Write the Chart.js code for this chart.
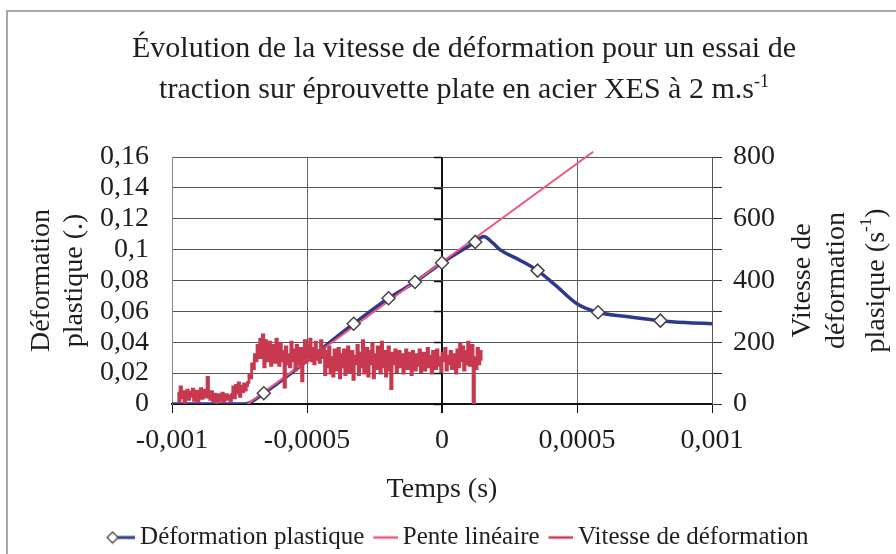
<!DOCTYPE html>
<html><head><meta charset="utf-8">
<script src="https://cdn.jsdelivr.net/npm/chart.js@4.4.1/dist/chart.umd.min.js"></script>
<style>
html,body{margin:0;padding:0;background:#fff;}
#wrap{position:relative;width:896px;height:554px;overflow:hidden;background:#fff;}
#frame{position:absolute;left:6px;top:10px;width:1000px;height:1000px;border-left:2px solid #a8a8a8;border-top:2px solid #a8a8a8;}
canvas{position:absolute;left:0;top:0;}
</style></head><body>
<div id="wrap"><div id="frame"></div><canvas id="c" width="896" height="554"></canvas></div>
<script>
// ---- texts ----
const titleLine1 = 'Évolution de la vitesse de déformation pour un essai de';
const titleLine2 = 'traction sur éprouvette plate en acier XES à 2 m.s';
const titleSup = '-1';
const xTitle = 'Temps (s)';
const yLeftTitle = ['Déformation', 'plastique (.)'];
const yRightTitle = ['Vitesse de', 'déformation', 'plasique (s'];
const legendNames = ['Déformation plastique', 'Pente linéaire', 'Vitesse de déformation'];

// ---- Déformation plastique (left axis) ----
const strainT = [-0.001, -0.00073, -0.00066, -0.000327, -0.000198, -0.0001, 0, 0.000123, 0.000154, 0.00019, 0.000216, 0.00029, 0.000354, 0.00042, 0.0005, 0.000578, 0.00069, 0.000809, 0.0009, 0.001];
const strainV = [0, 0, 0.007, 0.052, 0.0685, 0.079, 0.0915, 0.105, 0.1085, 0.104, 0.0998, 0.093, 0.0864, 0.077, 0.065, 0.0594, 0.0565, 0.054, 0.0528, 0.052];
const markerT = [-0.00066, -0.000327, -0.000198, -0.0001, 0, 0.000123, 0.000354, 0.000578, 0.000809];
const markerV = [0.007, 0.052, 0.0685, 0.079, 0.0915, 0.105, 0.0864, 0.0594, 0.054];

// ---- Pente linéaire (left axis) ----
const slopeT = [-0.00072, 0.00056];
const slopeV = [0, 0.1634];

// ---- Vitesse de déformation (right axis), sampled every NOISE_DT from NOISE_T0 ----
const NOISE_T0 = -0.00098;
const NOISE_DT = 0.000005;
const rateV = [
  35,10,55,20,40,5,30,45,15,38,
  25,48,12,33,42,8,28,50,18,36,
  45,22,86,30,15,40,10,32,25,5,
  30,12,28,35,8,22,30,15,26,10,
  30,55,20,60,35,68,25,58,40,65,
  45,60,
  70,95,85,130,115,160,140,190,150,210,
  150,224,120,205,180,140,200,125,190,150,
  135,210,160,125,195,140,170,55,185,130,
  160,120,200,140,175,110,190,150,130,180,
  75,165,205,135,190,150,210,140,180,130,
  200,145,170,135,205,150,180,95,170,120,
  185,100,150,90,175,130,110,180,85,160,
  120,175,95,150,185,105,140,170,80,155,
  130,190,95,165,120,205,100,150,180,90,
  170,130,195,85,160,115,185,140,100,200,
  120,170,90,155,185,110,50,165,130,175,
  105,150,170,120,160,100,145,175,115,165,
  130,95,170,140,110,160,125,175,105,150,
  165,110,140,180,120,155,100,170,135,115,
  175,125,150,105,165,140,180,110,155,130,
  170,115,160,135,100,175,120,195,140,185,
  110,170,130,200,125,160,190,3,150,115,
  180,130,170,140
];

// ---- axes ----
const xMin = -0.001, xMax = 0.001, xStep = 0.0005;
const yMin = 0, yMax = 0.16, yStep = 0.02;
const y2Min = 0, y2Max = 800, y2Step = 100, y2LabelEvery = 200;

const FONT = '"Liberation Serif", "Times New Roman", serif';
const TXT = '#1e1e1e';
const BLUE = '#2d3a8c', PINK = '#f2557a', RED = '#c8384f';

function fmt(v){
  const r = Math.round(v * 1e6) / 1e6;
  if (r === 0) return '0';
  return String(r).replace('.', ',');
}

function makeIcon(kind){
  const c = document.createElement('canvas');
  c.width = 37; c.height = 14;
  const g = c.getContext('2d');
  if (kind === 0){
    g.strokeStyle = BLUE; g.lineWidth = 3;
    g.beginPath(); g.moveTo(18, 7); g.lineTo(37, 7); g.stroke();
    g.fillStyle = '#fff'; g.strokeStyle = '#444'; g.lineWidth = 1.3;
    g.beginPath(); g.moveTo(14.5, 1.5); g.lineTo(20, 7); g.lineTo(14.5, 12.5); g.lineTo(9, 7); g.closePath(); g.fill(); g.stroke();
  } else {
    g.strokeStyle = kind === 1 ? PINK : RED; g.lineWidth = 2.5;
    g.beginPath(); g.moveTo(12.5, 7); g.lineTo(37, 7); g.stroke();
  }
  return c;
}
const icons = [makeIcon(0), makeIcon(1), makeIcon(2)];

function drawRich(ctx, parts, cx, cy, size){
  const supSize = Math.round(size * 0.6);
  let w = 0;
  parts.forEach(p => { ctx.font = (p.sup ? supSize : size) + 'px ' + FONT; w += ctx.measureText(p.t).width; });
  let x = cx - w / 2;
  ctx.textAlign = 'left';
  parts.forEach(p => {
    ctx.font = (p.sup ? supSize : size) + 'px ' + FONT;
    ctx.fillText(p.t, x, cy + (p.sup ? -size * 0.36 : 0));
    x += ctx.measureText(p.t).width;
  });
}

const overlay = {
  id: 'overlay',
  beforeDatasetsDraw(chart){
    const {ctx, scales: {x, y}} = chart;
    const x0 = x.getPixelForValue(0);
    ctx.save();
    ctx.strokeStyle = '#111'; ctx.lineWidth = 1.5;
    y.ticks.forEach(t => {
      const py = Math.round(y.getPixelForValue(t.value)) + 0.5;
      ctx.beginPath(); ctx.moveTo(x0 - 8, py); ctx.lineTo(x0, py); ctx.stroke();
    });
    ctx.restore();
  },
  afterDraw(chart){
    const {ctx, chartArea: a} = chart;
    const midY = (a.top + a.bottom) / 2;
    ctx.save();
    ctx.fillStyle = TXT;
    ctx.textBaseline = 'alphabetic';
    drawRich(ctx, [{t: titleLine1}], 464, 57, 30);
    drawRich(ctx, [{t: titleLine2}, {t: titleSup, sup: true}], 464, 98, 30);
    ctx.textBaseline = 'middle';
    drawRich(ctx, [{t: xTitle}], (a.left + a.right) / 2, 490, 28);
    const leftX = [42, 75];
    yLeftTitle.forEach((s, i) => {
      ctx.save(); ctx.translate(leftX[i], midY); ctx.rotate(-Math.PI / 2);
      drawRich(ctx, [{t: s}], 0, 0, 28); ctx.restore();
    });
    const rightX = [803, 837, 877];
    yRightTitle.forEach((s, i) => {
      ctx.save(); ctx.translate(rightX[i], midY); ctx.rotate(-Math.PI / 2);
      const parts = i === 2 ? [{t: s}, {t: '-1', sup: true}, {t: ')'}] : [{t: s}];
      drawRich(ctx, parts, 0, 0, 28); ctx.restore();
    });
    ctx.restore();
  }
};

const strainData = strainT.map((t, i) => ({x: t, y: strainV[i]}));
const markerData = markerT.map((t, i) => ({x: t, y: markerV[i]}));
const slopeData = slopeT.map((t, i) => ({x: t, y: slopeV[i]}));
const rateData = rateV.map((v, i) => ({x: NOISE_T0 + i * NOISE_DT, y: v}));

new Chart(document.getElementById('c'), {
  type: 'line',
  data: {
    datasets: [
      {label: legendNames[0], data: strainData, yAxisID: 'y', borderColor: BLUE, borderWidth: 3.5, pointRadius: 0, cubicInterpolationMode: 'monotone', order: 3},
      {label: legendNames[1], data: slopeData, yAxisID: 'y', borderColor: PINK, borderWidth: 2, pointRadius: 0, order: 2, clip: {left: 0, top: 8, right: 0, bottom: 0}},
      {label: legendNames[2], data: rateData, yAxisID: 'y2', borderColor: RED, borderWidth: 2.8, pointRadius: 0, stepped: true, order: 1},
      {label: 'markers', data: markerData, yAxisID: 'y', showLine: false, pointStyle: 'rectRot', pointRadius: 6.5, pointBackgroundColor: '#fff', pointBorderColor: '#444', pointBorderWidth: 1.5, order: 0}
    ]
  },
  options: {
    responsive: false,
    animation: false,
    layout: {padding: {top: 157, left: 18, right: 0, bottom: -6}},
    plugins: {
      title: {display: false},
      tooltip: {enabled: false},
      legend: {
        position: 'bottom',
        labels: {
          usePointStyle: true, pointStyleWidth: 22, boxHeight: 14, padding: 4,
          color: TXT, font: {family: FONT, size: 25},
          generateLabels: () => legendNames.map((n, i) => ({text: n, pointStyle: icons[i], datasetIndex: i, hidden: false, fontColor: TXT, lineWidth: 0, strokeStyle: 'rgba(0,0,0,0)', fillStyle: 'rgba(0,0,0,0)'}))
        }
      }
    },
    scales: {
      x: {
        type: 'linear', min: xMin, max: xMax,
        afterFit: s => { s.height = 117; },
        ticks: {stepSize: xStep, callback: v => fmt(v), color: TXT, font: {family: FONT, size: 28}, padding: 11, maxRotation: 0, autoSkip: false},
        grid: {
          color: c => (c.tick && Math.abs(c.tick.value) < 1e-12) ? '#111' : '#666',
          lineWidth: c => (c.tick && Math.abs(c.tick.value) < 1e-12) ? 2 : 1,
          tickColor: '#111', tickLength: 9, drawTicks: true
        },
        border: {display: true, color: '#111', width: 2}
      },
      y: {
        position: 'left', min: yMin, max: yMax,
        afterFit: s => { s.width = 154; },
        ticks: {stepSize: yStep, callback: v => fmt(v), color: TXT, font: {family: FONT, size: 28}, padding: 23, autoSkip: false},
        grid: {color: '#555', lineWidth: 1, drawTicks: false},
        border: {display: true, color: '#888', width: 1}
      },
      y2: {
        position: 'right', min: y2Min, max: y2Max,
        afterFit: s => { s.width = 184; },
        ticks: {stepSize: y2Step, callback: v => (Math.round(v) % y2LabelEvery === 0 ? String(Math.round(v)) : ''), color: TXT, font: {family: FONT, size: 28}, padding: 11, autoSkip: false},
        grid: {drawOnChartArea: false, drawTicks: true, tickLength: 10, tickColor: '#333'},
        border: {display: true, color: '#555', width: 1}
      }
    }
  },
  plugins: [overlay]
});
</script>
</body></html>
